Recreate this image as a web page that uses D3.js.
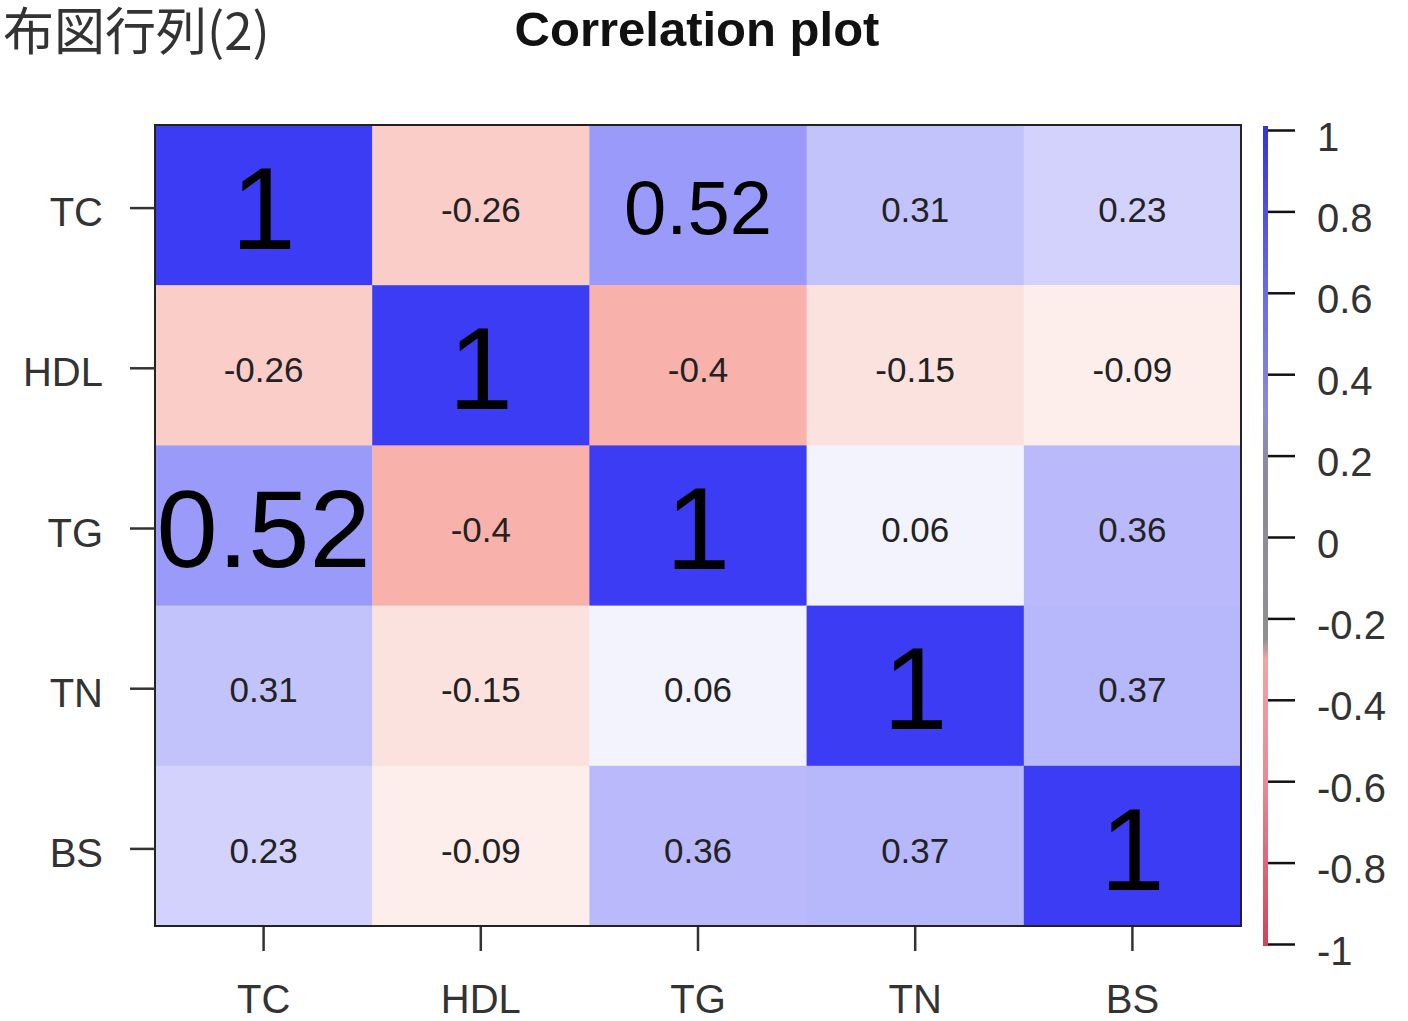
<!DOCTYPE html>
<html>
<head>
<meta charset="utf-8">
<script src="https://cdn.jsdelivr.net/npm/d3@7"></script>
<style>
  html, body { margin: 0; padding: 0; background: #fff; overflow: hidden; }
  svg { display: block; }
</style>
</head>
<body>
<script>
// ---- data ----
const variables = ["TC", "HDL", "TG", "TN", "BS"];
const rowTC  = [1, -0.26, 0.52, 0.31, 0.23];
const rowHDL = [-0.26, 1, -0.4, -0.15, -0.09];
const rowTG  = [0.52, -0.4, 1, 0.06, 0.36];
const rowTN  = [0.31, -0.15, 0.06, 1, 0.37];
const rowBS  = [0.23, -0.09, 0.36, 0.37, 1];
const legendTicks = [1, 0.8, 0.6, 0.4, 0.2, 0, -0.2, -0.4, -0.6, -0.8, -1];
const titleText = "Correlation plot";
const cornerText = "布図行列(2)";

const matrix = [rowTC, rowHDL, rowTG, rowTN, rowBS];
const cells = [];
matrix.forEach((row, r) => row.forEach((v, c) => cells.push({ r, c, v })));

const W = 1408, H = 1021;
const svg = d3.select("body").append("svg").attr("width", W).attr("height", H);
const FONT = "'Liberation Sans', Arial, sans-serif";

const x = d3.scaleBand().domain(variables).range([155, 1241]).padding(0);
const y = d3.scaleBand().domain(variables).range([125, 926]).padding(0);
const color = d3.scaleLinear().domain([-1, 0, 1]).range(["#ed3e2c", "#ffffff", "#3c3cf5"]);

// cells
svg.append("g").selectAll("rect").data(cells).join("rect")
  .attr("x", d => x(variables[d.c]))
  .attr("y", d => y(variables[d.r]))
  .attr("width", x.bandwidth() + 0.5)
  .attr("height", y.bandwidth() + 0.5)
  .attr("fill", d => color(d.v));

function fontSize(d) {
  if (d.v === 1) return 116;
  if (Math.abs(d.v) > 0.5) return d.r > d.c ? 110 : 76;
  return 35;
}

svg.append("g").selectAll("text").data(cells).join("text")
  .attr("x", d => x(variables[d.c]) + x.bandwidth() / 2)
  .attr("y", d => y(variables[d.r]) + y.bandwidth() / 2 + (fontSize(d) > 40 ? 2 : 4))
  .attr("text-anchor", "middle")
  .attr("dy", d => (fontSize(d) * 0.36) + "px")
  .attr("font-family", FONT)
  .attr("font-size", d => fontSize(d))
  .attr("fill", d => fontSize(d) > 40 ? "#000" : "#222")
  .text(d => String(d.v));

// frame
svg.append("rect")
  .attr("x", 155).attr("y", 125)
  .attr("width", 1241 - 155).attr("height", 926 - 125)
  .attr("fill", "none").attr("stroke", "#222").attr("stroke-width", 2);

// left axis
const yAxis = d3.axisLeft(y).tickSize(25).tickPadding(26);
const gy = svg.append("g").attr("transform", "translate(130,3)").call(yAxis);
gy.select(".domain").remove();
gy.selectAll(".tick line").attr("x1", 0).attr("x2", 25).attr("stroke", "#333").attr("stroke-width", 2.5);
gy.selectAll(".tick text").attr("x", -27).attr("dy", "0.45em")
  .attr("font-family", FONT).attr("font-size", 40).attr("fill", "#333");

// bottom axis
const xAxis = d3.axisBottom(x).tickSize(24).tickPadding(34);
const gx = svg.append("g").attr("transform", "translate(0,927)").call(xAxis);
gx.select(".domain").remove();
gx.selectAll(".tick line").attr("stroke", "#333").attr("stroke-width", 2.5);
gx.selectAll(".tick text").attr("font-family", FONT).attr("font-size", 40).attr("fill", "#333");

// colour legend
const ly = d3.scaleLinear().domain([-1, 1]).range([944, 130]);
const defs = svg.append("defs");
const grad = defs.append("linearGradient").attr("id", "lg")
  .attr("x1", 0).attr("y1", 0).attr("x2", 0).attr("y2", 1);
const stops = [
  [1, "#3434d8"], [0.6, "#6a6ae8"], [0.3, "#8c8cd0"], [0.15, "#8a8a9a"],
  [-0.25, "#909090"], [-0.3, "#f0a4a4"], [-0.6, "#e88a94"], [-1, "#d04458"]
];
stops.forEach(([v, col]) => grad.append("stop")
  .attr("offset", ((1 - v) / 2 * 100) + "%").attr("stop-color", col));
svg.append("rect").attr("x", 1263).attr("y", ly(1) - 4)
  .attr("width", 5).attr("height", ly(-1) - ly(1) + 6)
  .attr("fill", "url(#lg)");

const lAxis = d3.axisRight(ly).tickValues(legendTicks).tickSize(27).tickPadding(22)
  .tickFormat(d => String(d));
const gl = svg.append("g").attr("transform", "translate(1268,0)").call(lAxis);
gl.select(".domain").remove();
gl.selectAll(".tick line").attr("stroke", "#111").attr("stroke-width", 2.5);
gl.selectAll(".tick text").attr("dy", "0.5em")
  .attr("font-family", FONT).attr("font-size", 40).attr("fill", "#333");

// title
svg.append("text").attr("x", 697).attr("y", 46)
  .attr("text-anchor", "middle")
  .attr("font-family", FONT).attr("font-weight", "bold").attr("font-size", 49)
  .attr("fill", "#111")
  .text(titleText);

svg.append("text").attr("x", 3).attr("y", 50)
  .attr("font-family", "'Noto Sans CJK JP', sans-serif").attr("font-size", 51)
  .attr("fill", "#333")
  .text(cornerText);
</script>
</body>
</html>
